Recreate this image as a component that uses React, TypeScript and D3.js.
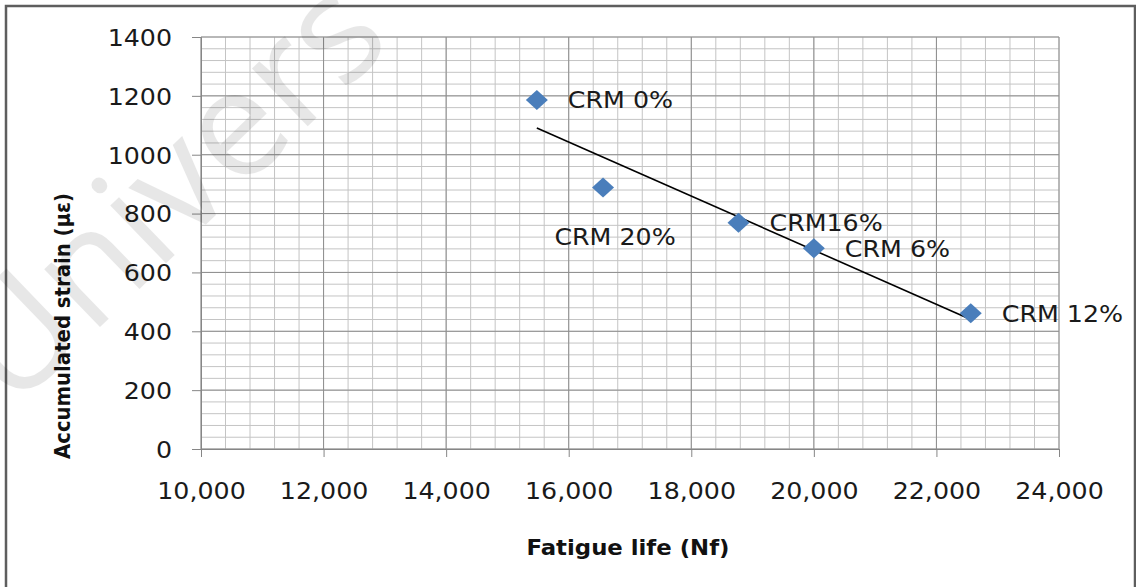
import React, { useEffect, useRef } from 'react';
import * as d3 from 'd3';

// fatigue life (Nf) and accumulated strain (με) per CRM content
const labels = ['CRM 0%', 'CRM 20%', 'CRM16%', 'CRM 6%', 'CRM 12%'];
const fatigueLife = [15480, 16560, 18770, 20000, 22560];
const strain = [1186, 889, 769, 682, 461];

const xTicks = [10000, 12000, 14000, 16000, 18000, 20000, 22000, 24000];
const yTicks = [0, 200, 400, 600, 800, 1000, 1200, 1400];

const W = 1136;
const H = 587;
const margin = { top: 37, right: 77, bottom: 138, left: 201 };
const stretch = 1.1; // the source image is a bit wider than tall

function App() {
  const svgRef = useRef<SVGSVGElement>(null);

  useEffect(() => {
    document.body.style.margin = '0';
    const svg = d3.select(svgRef.current);
    svg.selectAll('*').remove();

    const x = d3.scaleLinear().domain([10000, 24000]).range([margin.left, W - margin.right]);
    const y = d3.scaleLinear().domain([0, 1400]).range([H - margin.bottom, margin.top]);

    svg.append('rect').attr('width', W).attr('height', H).attr('fill', '#fff');

    // outer frame
    svg.append('rect')
      .attr('x', 6).attr('y', 6).attr('width', W - 7).attr('height', H + 20)
      .attr('fill', 'none').attr('stroke', '#5e5e5e').attr('stroke-width', 2.5);

    const g = svg.append('g');

    // minor grid
    const xMinor = d3.range(10000, 24001, 400);
    const yMinor = d3.range(0, 1401, 40);
    g.selectAll('.xminor').data(xMinor).enter().append('line')
      .attr('x1', d => x(d)).attr('x2', d => x(d))
      .attr('y1', y(0)).attr('y2', y(1400))
      .attr('stroke', '#c4c4c4').attr('stroke-width', 1);
    g.selectAll('.yminor').data(yMinor).enter().append('line')
      .attr('x1', x(10000)).attr('x2', x(24000))
      .attr('y1', d => y(d)).attr('y2', d => y(d))
      .attr('stroke', '#c4c4c4').attr('stroke-width', 1);

    // major grid
    g.selectAll('.xmajor').data(xTicks).enter().append('line')
      .attr('x1', d => x(d)).attr('x2', d => x(d))
      .attr('y1', y(0)).attr('y2', y(1400))
      .attr('stroke', '#8e8e8e').attr('stroke-width', 1);
    g.selectAll('.ymajor').data(yTicks).enter().append('line')
      .attr('x1', x(10000)).attr('x2', x(24000))
      .attr('y1', d => y(d)).attr('y2', d => y(d))
      .attr('stroke', '#8e8e8e').attr('stroke-width', 1);

    // axes
    const xAxis = d3.axisBottom(x).tickValues(xTicks).tickSize(8)
      .tickFormat(d3.format(','));
    const yAxis = d3.axisLeft(y).tickValues(yTicks).tickSize(9)
      .tickFormat(d3.format('d'));

    const fontFamily = '"DejaVu Sans", sans-serif';
    const xg = svg.append('g').attr('transform', `translate(0,${y(0)})`).call(xAxis);
    const yg = svg.append('g').attr('transform', `translate(${x(10000)},0)`).call(yAxis);
    [xg, yg].forEach(a => {
      a.select('.domain').attr('stroke', '#868686');
      a.selectAll('.tick line').attr('stroke', '#868686');
      a.selectAll('.tick text')
        .attr('fill', '#1a1a1a')
        .style('font-family', fontFamily)
        .style('font-size', '23px');
    });
    xg.selectAll('.tick text')
      .attr('x', 0).attr('y', 0).attr('dy', null)
      .attr('transform', `translate(0,50) scale(${stretch},1)`);
    yg.selectAll('.tick text')
      .attr('x', 0).attr('dy', '0.36em')
      .attr('transform', `translate(-29,0) scale(${stretch},1)`);

    // linear trend line
    const mx = d3.mean(fatigueLife)!;
    const my = d3.mean(strain)!;
    const sxy = d3.sum(fatigueLife, (v, i) => (v - mx) * (strain[i] - my));
    const sxx = d3.sum(fatigueLife, v => (v - mx) ** 2);
    const slope = sxy / sxx;
    const ext = d3.extent(fatigueLife) as [number, number];
    const trend = ext.map(v => [v, my + slope * (v - mx)] as [number, number]);
    svg.append('path')
      .attr('d', d3.line<[number, number]>().x(d => x(d[0])).y(d => y(d[1]))(trend))
      .attr('fill', 'none').attr('stroke', '#000').attr('stroke-width', 1.6);

    // points
    const pts = labels.map((l, i) => ({ label: l, nf: fatigueLife[i], s: strain[i] }));
    svg.selectAll('.pt').data(pts).enter().append('path')
      .attr('transform', d => `translate(${x(d.nf)},${y(d.s)})`)
      .attr('d', 'M0,-10L11,0L0,10L-11,0Z')
      .attr('fill', '#4a7ebb');

    // data labels (CRM 20% sits below its point)
    svg.selectAll('.lbl').data(pts).enter().append('text')
      .attr('transform', d => {
        const below = d.label === 'CRM 20%';
        const tx = x(d.nf) + (below ? 12 : 31);
        const ty = y(d.s) + (below ? 49 : 0);
        return `translate(${tx},${ty}) scale(${stretch},1)`;
      })
      .attr('dy', '0.36em')
      .attr('text-anchor', d => (d.label === 'CRM 20%' ? 'middle' : 'start'))
      .style('font-family', fontFamily)
      .style('font-size', '23px')
      .attr('fill', '#1a1a1a')
      .text(d => d.label);

    // axis titles
    svg.append('text')
      .attr('x', 628).attr('y', 555)
      .attr('text-anchor', 'middle')
      .attr('textLength', 203).attr('lengthAdjust', 'spacingAndGlyphs')
      .style('font-family', fontFamily).style('font-size', '22px').style('font-weight', 'bold')
      .attr('fill', '#111')
      .text('Fatigue life (Nf)');
    svg.append('text')
      .attr('transform', 'translate(70,326) rotate(-90)')
      .attr('text-anchor', 'middle')
      .attr('textLength', 266).attr('lengthAdjust', 'spacingAndGlyphs')
      .style('font-family', fontFamily).style('font-size', '22px').style('font-weight', 'bold')
      .attr('fill', '#111')
      .text('Accumulated strain (με)');

    // faint watermark, cut by the edge as in the source
    svg.append('text')
      .attr('transform', 'translate(12,412) rotate(-44)')
      .style('font-family', '"Open Sans", sans-serif').style('font-size', '150px')
      .attr('fill', '#000').attr('opacity', 0.09)
      .text('Univers');
  }, []);

  return <svg ref={svgRef} width={W} height={H} style={{ display: 'block' }} />;
}

export default App;
